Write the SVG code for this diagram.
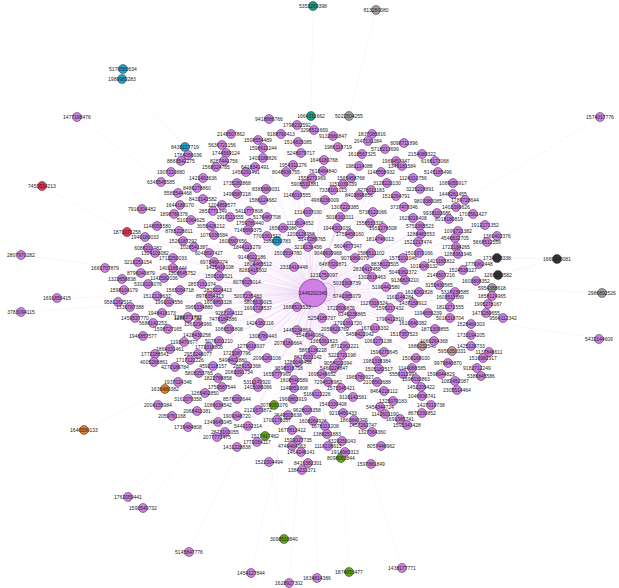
<svg xmlns="http://www.w3.org/2000/svg" width="619" height="588" viewBox="0 0 619 588">
<style>
text{font-family:"Liberation Sans",Arial,sans-serif;font-size:5px;text-anchor:middle;fill:#222}
circle{stroke:#3a2a3e;stroke-width:.5}
.p circle{fill:#d07fe6}.t circle{fill:#17a086}.g circle{fill:#a0a0a0}.c circle{fill:#1ba7d6}.r circle{fill:#e8334f}.d circle{fill:#333}.o circle{fill:#e67e22}.gr circle{fill:#63a80e}.b circle{fill:#c49a9a}
#edges line{stroke:#dfb0ee;stroke-width:.4;stroke-opacity:.35}
#edges .et{stroke:#9edfcc}#edges .eg{stroke:#cccccc}#edges .ec{stroke:#a9dcf0}#edges .er{stroke:#f5b0bd}#edges .ed{stroke:#bbbbbb}#edges .eo{stroke:#f3c79a}#edges .egr{stroke:#d2e8a8}#edges .eb{stroke:#e0cccc}
</style>
<rect width="619" height="588" fill="#fff"/>
<g id="edges">
<line class="et" x1="313" y1="6" x2="311" y2="116"/>
<line class="eg" x1="376" y1="10" x2="349" y2="116"/>
<line class="ec" x1="123" y1="69" x2="185" y2="147"/>
<line class="ec" x1="122" y1="79" x2="185" y2="147"/>
<line class="er" x1="42" y1="186" x2="127" y2="232"/>
<line class="ed" x1="557" y1="259" x2="497" y2="258"/>
<line class="ed" x1="557" y1="259" x2="498" y2="275"/>
<line class="eg" x1="602" y1="293" x2="492" y2="288"/>
<line class="eo" x1="84" y1="430" x2="165" y2="389"/>
<line class="egr" x1="284" y1="539" x2="265" y2="436"/>
<line class="egr" x1="349" y1="572" x2="341" y2="458"/>
<line class="ec" x1="313" y1="293" x2="185" y2="147"/>
<line class="et" x1="313" y1="293" x2="311" y2="116"/>
<line class="eg" x1="313" y1="293" x2="349" y2="116"/>
<line class="er" x1="313" y1="293" x2="127" y2="232"/>
<line class="ed" x1="313" y1="293" x2="497" y2="258"/>
<line class="ed" x1="313" y1="293" x2="498" y2="275"/>
<line class="eg" x1="313" y1="293" x2="492" y2="288"/>
<line class="eo" x1="313" y1="293" x2="165" y2="389"/>
<line class="egr" x1="313" y1="293" x2="265" y2="436"/>
<line class="egr" x1="313" y1="293" x2="274" y2="405"/>
<line class="egr" x1="313" y1="293" x2="341" y2="458"/>
<line class="eb" x1="313" y1="293" x2="422" y2="346"/>
<line class="eb" x1="313" y1="293" x2="452" y2="351"/>
<line class="ec" x1="313" y1="293" x2="277" y2="241"/>
<line x1="313" y1="293" x2="77" y2="117"/><line x1="313" y1="293" x2="600" y2="117"/><line x1="313" y1="293" x2="21" y2="255"/><line x1="313" y1="293" x2="57" y2="298"/><line x1="313" y1="293" x2="21" y2="312"/><line x1="313" y1="293" x2="599" y2="339"/><line x1="313" y1="293" x2="251" y2="573"/><line x1="313" y1="293" x2="289" y2="583"/><line x1="313" y1="293" x2="317" y2="578"/><line x1="313" y1="293" x2="402" y2="568"/><line x1="313" y1="293" x2="189" y2="552"/><line x1="313" y1="293" x2="128" y2="497"/><line x1="313" y1="293" x2="143" y2="508"/><line x1="313" y1="293" x2="269" y2="119"/>
<line x1="313" y1="293" x2="231" y2="134"/><line x1="313" y1="293" x2="222" y2="145"/><line x1="313" y1="293" x2="226" y2="153"/><line x1="313" y1="293" x2="188" y2="155"/><line x1="313" y1="293" x2="181" y2="161"/><line x1="313" y1="293" x2="224" y2="161"/><line x1="313" y1="293" x2="216" y2="167"/><line x1="313" y1="293" x2="171" y2="172"/><line x1="313" y1="293" x2="203" y2="178"/><line x1="313" y1="293" x2="161" y2="182"/><line x1="313" y1="293" x2="237" y2="183"/><line x1="313" y1="293" x2="197" y2="188"/><line x1="313" y1="293" x2="178" y2="193"/><line x1="313" y1="293" x2="237" y2="194"/><line x1="313" y1="293" x2="203" y2="199"/><line x1="313" y1="293" x2="180" y2="205"/><line x1="313" y1="293" x2="222" y2="205"/><line x1="313" y1="293" x2="213" y2="211"/><line x1="313" y1="293" x2="142" y2="209"/><line x1="313" y1="293" x2="174" y2="214"/><line x1="313" y1="293" x2="230" y2="217"/><line x1="313" y1="293" x2="191" y2="220"/><line x1="313" y1="293" x2="157" y2="226"/><line x1="313" y1="293" x2="211" y2="226"/><line x1="313" y1="293" x2="179" y2="231"/><line x1="313" y1="293" x2="214" y2="235"/><line x1="313" y1="293" x2="145" y2="237"/><line x1="313" y1="293" x2="183" y2="241"/><line x1="313" y1="293" x2="233" y2="241"/><line x1="313" y1="293" x2="194" y2="247"/><line x1="313" y1="293" x2="247" y2="247"/><line x1="313" y1="293" x2="148" y2="248"/><line x1="313" y1="293" x2="209" y2="253"/><line x1="313" y1="293" x2="155" y2="253"/><line x1="313" y1="293" x2="173" y2="258"/><line x1="313" y1="293" x2="214" y2="262"/><line x1="313" y1="293" x2="220" y2="267"/><line x1="313" y1="293" x2="173" y2="268"/><line x1="313" y1="293" x2="182" y2="273"/><line x1="313" y1="293" x2="219" y2="276"/><line x1="313" y1="293" x2="164" y2="278"/><line x1="313" y1="293" x2="202" y2="284"/><line x1="313" y1="293" x2="247" y2="282"/><line x1="313" y1="293" x2="148" y2="284"/><line x1="313" y1="293" x2="180" y2="290"/><line x1="313" y1="293" x2="218" y2="290"/><line x1="313" y1="293" x2="138" y2="262"/><line x1="313" y1="293" x2="249" y2="211"/><line x1="313" y1="293" x2="250" y2="223"/><line x1="313" y1="293" x2="248" y2="230"/><line x1="313" y1="293" x2="246" y2="172"/><line x1="313" y1="293" x2="255" y2="167"/><line x1="313" y1="293" x2="258" y2="140"/><line x1="313" y1="293" x2="263" y2="148"/><line x1="313" y1="293" x2="263" y2="158"/><line x1="313" y1="293" x2="266" y2="189"/><line x1="313" y1="293" x2="263" y2="200"/><line x1="313" y1="293" x2="267" y2="217"/><line x1="313" y1="293" x2="267" y2="236"/><line x1="313" y1="293" x2="252" y2="257"/><line x1="313" y1="293" x2="258" y2="264"/><line x1="313" y1="293" x2="253" y2="270"/>
<line x1="313" y1="293" x2="105" y2="268"/><line x1="313" y1="293" x2="141" y2="273"/><line x1="313" y1="293" x2="122" y2="279"/><line x1="313" y1="293" x2="124" y2="290"/><line x1="313" y1="293" x2="118" y2="302"/><line x1="313" y1="293" x2="130" y2="307"/><line x1="313" y1="293" x2="135" y2="318"/><line x1="313" y1="293" x2="153" y2="323"/><line x1="313" y1="293" x2="143" y2="336"/><line x1="313" y1="293" x2="188" y2="318"/><line x1="313" y1="293" x2="168" y2="329"/>
<line x1="313" y1="293" x2="297" y2="125"/><line x1="313" y1="293" x2="314" y2="130"/><line x1="313" y1="293" x2="281" y2="134"/><line x1="313" y1="293" x2="333" y2="136"/><line x1="313" y1="293" x2="372" y2="134"/><line x1="313" y1="293" x2="368" y2="141"/><line x1="313" y1="293" x2="298" y2="142"/><line x1="313" y1="293" x2="338" y2="147"/><line x1="313" y1="293" x2="385" y2="149"/><line x1="313" y1="293" x2="301" y2="153"/><line x1="313" y1="293" x2="362" y2="154"/><line x1="313" y1="293" x2="324" y2="160"/><line x1="313" y1="293" x2="293" y2="165"/><line x1="313" y1="293" x2="359" y2="166"/><line x1="313" y1="293" x2="323" y2="171"/><line x1="313" y1="293" x2="286" y2="172"/><line x1="313" y1="293" x2="381" y2="172"/><line x1="313" y1="293" x2="312" y2="178"/><line x1="313" y1="293" x2="351" y2="178"/><line x1="313" y1="293" x2="305" y2="184"/><line x1="313" y1="293" x2="343" y2="184"/><line x1="313" y1="293" x2="387" y2="183"/><line x1="313" y1="293" x2="333" y2="190"/><line x1="313" y1="293" x2="371" y2="190"/><line x1="313" y1="293" x2="297" y2="195"/><line x1="313" y1="293" x2="359" y2="195"/><line x1="313" y1="293" x2="325" y2="200"/><line x1="313" y1="293" x2="345" y2="207"/><line x1="313" y1="293" x2="308" y2="212"/><line x1="313" y1="293" x2="373" y2="212"/><line x1="313" y1="293" x2="340" y2="217"/><line x1="313" y1="293" x2="300" y2="223"/><line x1="313" y1="293" x2="370" y2="223"/><line x1="313" y1="293" x2="337" y2="228"/><line x1="313" y1="293" x2="383" y2="228"/><line x1="313" y1="293" x2="283" y2="228"/><line x1="313" y1="293" x2="301" y2="234"/><line x1="313" y1="293" x2="350" y2="234"/><line x1="313" y1="293" x2="312" y2="239"/><line x1="313" y1="293" x2="380" y2="239"/><line x1="313" y1="293" x2="308" y2="247"/><line x1="313" y1="293" x2="348" y2="246"/><line x1="313" y1="293" x2="328" y2="253"/><line x1="313" y1="293" x2="371" y2="253"/><line x1="313" y1="293" x2="288" y2="253"/><line x1="313" y1="293" x2="355" y2="258"/><line x1="313" y1="293" x2="333" y2="264"/><line x1="313" y1="293" x2="385" y2="264"/><line x1="313" y1="293" x2="294" y2="267"/><line x1="313" y1="293" x2="367" y2="269"/><line x1="313" y1="293" x2="324" y2="275"/><line x1="313" y1="293" x2="372" y2="277"/><line x1="313" y1="293" x2="347" y2="283"/><line x1="313" y1="293" x2="386" y2="287"/>
<line x1="313" y1="293" x2="404" y2="143"/><line x1="313" y1="293" x2="422" y2="154"/><line x1="313" y1="293" x2="396" y2="161"/><line x1="313" y1="293" x2="435" y2="161"/><line x1="313" y1="293" x2="402" y2="166"/><line x1="313" y1="293" x2="438" y2="172"/><line x1="313" y1="293" x2="413" y2="178"/><line x1="313" y1="293" x2="453" y2="183"/><line x1="313" y1="293" x2="420" y2="189"/><line x1="313" y1="293" x2="453" y2="194"/><line x1="313" y1="293" x2="465" y2="200"/><line x1="313" y1="293" x2="396" y2="196"/><line x1="313" y1="293" x2="428" y2="201"/><line x1="313" y1="293" x2="404" y2="207"/><line x1="313" y1="293" x2="456" y2="207"/><line x1="313" y1="293" x2="437" y2="213"/><line x1="313" y1="293" x2="473" y2="214"/><line x1="313" y1="293" x2="413" y2="218"/><line x1="313" y1="293" x2="449" y2="219"/><line x1="313" y1="293" x2="485" y2="225"/><line x1="313" y1="293" x2="420" y2="226"/><line x1="313" y1="293" x2="458" y2="231"/><line x1="313" y1="293" x2="421" y2="234"/><line x1="313" y1="293" x2="497" y2="236"/><line x1="313" y1="293" x2="455" y2="238"/><line x1="313" y1="293" x2="418" y2="242"/><line x1="313" y1="293" x2="487" y2="242"/><line x1="313" y1="293" x2="456" y2="247"/><line x1="313" y1="293" x2="419" y2="253"/><line x1="313" y1="293" x2="458" y2="254"/><line x1="313" y1="293" x2="403" y2="258"/><line x1="313" y1="293" x2="441" y2="261"/><line x1="313" y1="293" x2="424" y2="266"/><line x1="313" y1="293" x2="479" y2="264"/><line x1="313" y1="293" x2="403" y2="272"/><line x1="313" y1="293" x2="463" y2="270"/><line x1="313" y1="293" x2="441" y2="275"/><line x1="313" y1="293" x2="405" y2="280"/><line x1="313" y1="293" x2="476" y2="281"/><line x1="313" y1="293" x2="439" y2="285"/><line x1="313" y1="293" x2="419" y2="292"/><line x1="313" y1="293" x2="455" y2="292"/>
<line x1="313" y1="293" x2="450" y2="297"/><line x1="313" y1="293" x2="492" y2="296"/><line x1="313" y1="293" x2="488" y2="304"/><line x1="313" y1="293" x2="450" y2="307"/><line x1="313" y1="293" x2="486" y2="313"/><line x1="313" y1="293" x2="503" y2="318"/><line x1="313" y1="293" x2="450" y2="318"/><line x1="313" y1="293" x2="471" y2="324"/><line x1="313" y1="293" x2="435" y2="329"/><line x1="313" y1="293" x2="471" y2="335"/><line x1="313" y1="293" x2="434" y2="341"/><line x1="313" y1="293" x2="471" y2="346"/><line x1="313" y1="293" x2="489" y2="352"/><line x1="313" y1="293" x2="483" y2="358"/><line x1="313" y1="293" x2="448" y2="363"/><line x1="313" y1="293" x2="416" y2="358"/><line x1="313" y1="293" x2="412" y2="368"/><line x1="313" y1="293" x2="477" y2="368"/><line x1="313" y1="293" x2="441" y2="374"/><line x1="313" y1="293" x2="481" y2="376"/><line x1="313" y1="293" x2="403" y2="374"/><line x1="313" y1="293" x2="416" y2="379"/><line x1="313" y1="293" x2="455" y2="381"/><line x1="313" y1="293" x2="421" y2="387"/><line x1="313" y1="293" x2="457" y2="390"/><line x1="313" y1="293" x2="422" y2="396"/><line x1="313" y1="293" x2="431" y2="405"/><line x1="313" y1="293" x2="422" y2="413"/><line x1="313" y1="293" x2="400" y2="419"/><line x1="313" y1="293" x2="407" y2="425"/><line x1="313" y1="293" x2="400" y2="297"/><line x1="313" y1="293" x2="413" y2="303"/><line x1="313" y1="293" x2="428" y2="313"/><line x1="313" y1="293" x2="413" y2="323"/><line x1="313" y1="293" x2="404" y2="334"/><line x1="313" y1="293" x2="390" y2="308"/><line x1="313" y1="293" x2="390" y2="319"/><line x1="313" y1="293" x2="393" y2="401"/>
<line x1="313" y1="293" x2="157" y2="296"/><line x1="313" y1="293" x2="210" y2="296"/><line x1="313" y1="293" x2="248" y2="296"/><line x1="313" y1="293" x2="169" y2="302"/><line x1="313" y1="293" x2="218" y2="302"/><line x1="313" y1="293" x2="258" y2="302"/><line x1="313" y1="293" x2="162" y2="313"/><line x1="313" y1="293" x2="258" y2="308"/><line x1="313" y1="293" x2="188" y2="317"/><line x1="313" y1="293" x2="199" y2="307"/><line x1="313" y1="293" x2="229" y2="313"/><line x1="313" y1="293" x2="223" y2="319"/><line x1="313" y1="293" x2="198" y2="324"/><line x1="313" y1="293" x2="260" y2="323"/><line x1="313" y1="293" x2="229" y2="329"/><line x1="313" y1="293" x2="197" y2="335"/><line x1="313" y1="293" x2="263" y2="336"/><line x1="313" y1="293" x2="184" y2="342"/><line x1="313" y1="293" x2="219" y2="341"/><line x1="313" y1="293" x2="251" y2="346"/><line x1="313" y1="293" x2="170" y2="349"/><line x1="313" y1="293" x2="209" y2="347"/><line x1="313" y1="293" x2="155" y2="354"/><line x1="313" y1="293" x2="198" y2="354"/><line x1="313" y1="293" x2="237" y2="353"/><line x1="313" y1="293" x2="154" y2="362"/><line x1="313" y1="293" x2="190" y2="360"/><line x1="313" y1="293" x2="233" y2="360"/><line x1="313" y1="293" x2="267" y2="358"/><line x1="313" y1="293" x2="175" y2="367"/><line x1="313" y1="293" x2="213" y2="366"/><line x1="313" y1="293" x2="247" y2="366"/><line x1="313" y1="293" x2="199" y2="373"/><line x1="313" y1="293" x2="239" y2="372"/><line x1="313" y1="293" x2="218" y2="378"/><line x1="313" y1="293" x2="178" y2="382"/><line x1="313" y1="293" x2="257" y2="382"/><line x1="313" y1="293" x2="222" y2="387"/><line x1="313" y1="293" x2="258" y2="387"/><line x1="313" y1="293" x2="205" y2="393"/><line x1="313" y1="293" x2="237" y2="399"/><line x1="313" y1="293" x2="188" y2="399"/><line x1="313" y1="293" x2="158" y2="405"/><line x1="313" y1="293" x2="218" y2="405"/><line x1="313" y1="293" x2="258" y2="410"/><line x1="313" y1="293" x2="197" y2="411"/><line x1="313" y1="293" x2="172" y2="416"/><line x1="313" y1="293" x2="237" y2="416"/><line x1="313" y1="293" x2="218" y2="422"/><line x1="313" y1="293" x2="188" y2="427"/><line x1="313" y1="293" x2="248" y2="426"/><line x1="313" y1="293" x2="225" y2="432"/><line x1="313" y1="293" x2="217" y2="437"/><line x1="313" y1="293" x2="257" y2="442"/><line x1="313" y1="293" x2="237" y2="447"/><line x1="313" y1="293" x2="269" y2="462"/>
<line x1="313" y1="293" x2="347" y2="296"/><line x1="313" y1="293" x2="374" y2="303"/><line x1="313" y1="293" x2="297" y2="307"/><line x1="313" y1="293" x2="341" y2="308"/><line x1="313" y1="293" x2="352" y2="314"/><line x1="313" y1="293" x2="322" y2="318"/><line x1="313" y1="293" x2="348" y2="323"/><line x1="313" y1="293" x2="375" y2="328"/><line x1="313" y1="293" x2="297" y2="330"/><line x1="313" y1="293" x2="335" y2="329"/><line x1="313" y1="293" x2="310" y2="335"/><line x1="313" y1="293" x2="360" y2="334"/><line x1="313" y1="293" x2="378" y2="341"/><line x1="313" y1="293" x2="324" y2="341"/><line x1="313" y1="293" x2="288" y2="343"/><line x1="313" y1="293" x2="345" y2="346"/><line x1="313" y1="293" x2="313" y2="350"/><line x1="313" y1="293" x2="384" y2="352"/><line x1="313" y1="293" x2="308" y2="357"/><line x1="313" y1="293" x2="342" y2="355"/><line x1="313" y1="293" x2="298" y2="362"/><line x1="313" y1="293" x2="338" y2="363"/><line x1="313" y1="293" x2="377" y2="361"/><line x1="313" y1="293" x2="289" y2="368"/><line x1="313" y1="293" x2="334" y2="368"/><line x1="313" y1="293" x2="379" y2="369"/><line x1="313" y1="293" x2="277" y2="374"/><line x1="313" y1="293" x2="322" y2="374"/><line x1="313" y1="293" x2="360" y2="377"/><line x1="313" y1="293" x2="294" y2="380"/><line x1="313" y1="293" x2="328" y2="382"/><line x1="313" y1="293" x2="377" y2="382"/><line x1="313" y1="293" x2="294" y2="388"/><line x1="313" y1="293" x2="341" y2="388"/><line x1="313" y1="293" x2="384" y2="391"/><line x1="313" y1="293" x2="317" y2="394"/><line x1="313" y1="293" x2="353" y2="397"/><line x1="313" y1="293" x2="293" y2="399"/><line x1="313" y1="293" x2="333" y2="404"/><line x1="313" y1="293" x2="380" y2="407"/><line x1="313" y1="293" x2="307" y2="410"/><line x1="313" y1="293" x2="385" y2="414"/><line x1="313" y1="293" x2="343" y2="413"/><line x1="313" y1="293" x2="288" y2="415"/><line x1="313" y1="293" x2="313" y2="421"/><line x1="313" y1="293" x2="354" y2="420"/><line x1="313" y1="293" x2="277" y2="420"/><line x1="313" y1="293" x2="325" y2="426"/><line x1="313" y1="293" x2="363" y2="425"/><line x1="313" y1="293" x2="292" y2="430"/><line x1="313" y1="293" x2="372" y2="432"/><line x1="313" y1="293" x2="327" y2="434"/><line x1="313" y1="293" x2="298" y2="440"/><line x1="313" y1="293" x2="342" y2="441"/><line x1="313" y1="293" x2="292" y2="446"/><line x1="313" y1="293" x2="328" y2="446"/><line x1="313" y1="293" x2="345" y2="452"/><line x1="313" y1="293" x2="381" y2="446"/><line x1="313" y1="293" x2="301" y2="452"/><line x1="313" y1="293" x2="308" y2="463"/><line x1="313" y1="293" x2="371" y2="464"/><line x1="313" y1="293" x2="302" y2="470"/>
<circle cx="326" cy="292" r="9" fill="none" style="stroke:#d9a0e8;stroke-width:.6"/>
</g>
<g id="n0" class="p" transform="translate(313,293)"><circle r="14"/><text y="1.7">1446202346</text></g>
<g id="n1" class="t" transform="translate(313,6)"><circle r="4.5"/><text y="1.7">5353269398</text></g>
<g id="n2" class="g" transform="translate(376,10)"><circle r="4.5"/><text y="1.7">813280080</text></g>
<g id="n3" class="c" transform="translate(123,69)"><circle r="4.5"/><text y="1.7">5176580634</text></g>
<g id="n4" class="c" transform="translate(122,79)"><circle r="4.5"/><text y="1.7">1986980283</text></g>
<g id="n5" class="p" transform="translate(77,117)"><circle r="4.5"/><text y="1.7">1477168476</text></g>
<g id="n6" class="p" transform="translate(600,117)"><circle r="4.5"/><text y="1.7">1574017776</text></g>
<g id="n7" class="r" transform="translate(42,186)"><circle r="4.5"/><text y="1.7">7453524213</text></g>
<g id="n8" class="r" transform="translate(127,232)"><circle r="4.5"/><text y="1.7">1871071258</text></g>
<g id="n9" class="p" transform="translate(21,255)"><circle r="4.5"/><text y="1.7">2807970282</text></g>
<g id="n10" class="p" transform="translate(57,298)"><circle r="4.5"/><text y="1.7">1691850415</text></g>
<g id="n11" class="p" transform="translate(21,312)"><circle r="4.5"/><text y="1.7">3783094115</text></g>
<g id="n12" class="d" transform="translate(557,259)"><circle r="4.5"/><text y="1.7">1669840081</text></g>
<g id="n13" class="d" transform="translate(497,258)"><circle r="4.5"/><text y="1.7">1734278338</text></g>
<g id="n14" class="d" transform="translate(498,275)"><circle r="4.5"/><text y="1.7">1269520582</text></g>
<g id="n15" class="g" transform="translate(492,288)"><circle r="4.5"/><text y="1.7">5954388618</text></g>
<g id="n16" class="g" transform="translate(602,293)"><circle r="4.5"/><text y="1.7">2986892526</text></g>
<g id="n17" class="p" transform="translate(599,339)"><circle r="4.5"/><text y="1.7">5432144609</text></g>
<g id="n18" class="o" transform="translate(84,430)"><circle r="4.5"/><text y="1.7">1646599133</text></g>
<g id="n19" class="o" transform="translate(165,389)"><circle r="4.5"/><text y="1.7">1636480382</text></g>
<g id="n20" class="gr" transform="translate(284,539)"><circle r="4.5"/><text y="1.7">3098518840</text></g>
<g id="n21" class="gr" transform="translate(349,572)"><circle r="4.5"/><text y="1.7">1874053477</text></g>
<g id="n22" class="p" transform="translate(251,573)"><circle r="4.5"/><text y="1.7">1454127844</text></g>
<g id="n23" class="p" transform="translate(289,583)"><circle r="4.5"/><text y="1.7">1628927302</text></g>
<g id="n24" class="p" transform="translate(317,578)"><circle r="4.5"/><text y="1.7">1634814386</text></g>
<g id="n25" class="p" transform="translate(402,568)"><circle r="4.5"/><text y="1.7">1438177771</text></g>
<g id="n26" class="p" transform="translate(189,552)"><circle r="4.5"/><text y="1.7">5145847776</text></g>
<g id="n27" class="p" transform="translate(128,497)"><circle r="4.5"/><text y="1.7">1762059441</text></g>
<g id="n28" class="p" transform="translate(143,508)"><circle r="4.5"/><text y="1.7">1590540732</text></g>
<g id="n29" class="c" transform="translate(185,147)"><circle r="4.5"/><text y="1.7">8438227719</text></g>
<g id="n30" class="t" transform="translate(311,116)"><circle r="4.5"/><text y="1.7">1664311662</text></g>
<g id="n31" class="g" transform="translate(349,116)"><circle r="4.5"/><text y="1.7">5022504255</text></g>
<g id="n32" class="c" transform="translate(277,241)"><circle r="4.5"/><text y="1.7">1588230783</text></g>
<g id="n33" class="gr" transform="translate(265,436)"><circle r="4.5"/><text y="1.7">1517417462</text></g>
<g id="n34" class="gr" transform="translate(274,405)"><circle r="4.5"/><text y="1.7">3078051076</text></g>
<g id="n35" class="gr" transform="translate(341,458)"><circle r="4.5"/><text y="1.7">8098063844</text></g>
<g id="n36" class="b" transform="translate(422,346)"><circle r="4.5"/><text y="1.7">1686232546</text></g>
<g id="n37" class="b" transform="translate(452,351)"><circle r="4.5"/><text y="1.7">5956350331</text></g>
<g id="n38" class="p" transform="translate(269,119)"><circle r="4.5"/><text y="1.7">9418886766</text></g>
<g id="n39" class="p" transform="translate(231,134)"><circle r="4.5"/><text y="1.7">2148507862</text></g>
<g id="n40" class="p" transform="translate(222,145)"><circle r="4.5"/><text y="1.7">5636721156</text></g>
<g id="n41" class="p" transform="translate(226,153)"><circle r="4.5"/><text y="1.7">1744569124</text></g>
<g id="n42" class="p" transform="translate(188,155)"><circle r="4.5"/><text y="1.7">1764056036</text></g>
<g id="n43" class="p" transform="translate(181,161)"><circle r="4.5"/><text y="1.7">8883542275</text></g>
<g id="n44" class="p" transform="translate(224,161)"><circle r="4.5"/><text y="1.7">8287441756</text></g>
<g id="n45" class="p" transform="translate(216,167)"><circle r="4.5"/><text y="1.7">1568024785</text></g>
<g id="n46" class="p" transform="translate(171,172)"><circle r="4.5"/><text y="1.7">1907220880</text></g>
<g id="n47" class="p" transform="translate(203,178)"><circle r="4.5"/><text y="1.7">1421463636</text></g>
<g id="n48" class="p" transform="translate(161,182)"><circle r="4.5"/><text y="1.7">6345545585</text></g>
<g id="n49" class="p" transform="translate(237,183)"><circle r="4.5"/><text y="1.7">1735282868</text></g>
<g id="n50" class="p" transform="translate(197,188)"><circle r="4.5"/><text y="1.7">8486278860</text></g>
<g id="n51" class="p" transform="translate(178,193)"><circle r="4.5"/><text y="1.7">5585544468</text></g>
<g id="n52" class="p" transform="translate(237,194)"><circle r="4.5"/><text y="1.7">1499587218</text></g>
<g id="n53" class="p" transform="translate(203,199)"><circle r="4.5"/><text y="1.7">8432142582</text></g>
<g id="n54" class="p" transform="translate(180,205)"><circle r="4.5"/><text y="1.7">1644188170</text></g>
<g id="n55" class="p" transform="translate(222,205)"><circle r="4.5"/><text y="1.7">1204859577</text></g>
<g id="n56" class="p" transform="translate(213,211)"><circle r="4.5"/><text y="1.7">2853771349</text></g>
<g id="n57" class="p" transform="translate(142,209)"><circle r="4.5"/><text y="1.7">7916304482</text></g>
<g id="n58" class="p" transform="translate(174,214)"><circle r="4.5"/><text y="1.7">1898766378</text></g>
<g id="n59" class="p" transform="translate(230,217)"><circle r="4.5"/><text y="1.7">1917111555</text></g>
<g id="n60" class="p" transform="translate(191,220)"><circle r="4.5"/><text y="1.7">5102364625</text></g>
<g id="n61" class="p" transform="translate(157,226)"><circle r="4.5"/><text y="1.7">1148955580</text></g>
<g id="n62" class="p" transform="translate(211,226)"><circle r="4.5"/><text y="1.7">3056426212</text></g>
<g id="n63" class="p" transform="translate(179,231)"><circle r="4.5"/><text y="1.7">8785226611</text></g>
<g id="n64" class="p" transform="translate(214,235)"><circle r="4.5"/><text y="1.7">1076336584</text></g>
<g id="n65" class="p" transform="translate(145,237)"><circle r="4.5"/><text y="1.7">1940180033</text></g>
<g id="n66" class="p" transform="translate(183,241)"><circle r="4.5"/><text y="1.7">1526187292</text></g>
<g id="n67" class="p" transform="translate(233,241)"><circle r="4.5"/><text y="1.7">1603567656</text></g>
<g id="n68" class="p" transform="translate(194,247)"><circle r="4.5"/><text y="1.7">1028541387</text></g>
<g id="n69" class="p" transform="translate(247,247)"><circle r="4.5"/><text y="1.7">1844113279</text></g>
<g id="n70" class="p" transform="translate(148,248)"><circle r="4.5"/><text y="1.7">6088211082</text></g>
<g id="n71" class="p" transform="translate(209,253)"><circle r="4.5"/><text y="1.7">6043697427</text></g>
<g id="n72" class="p" transform="translate(155,253)"><circle r="4.5"/><text y="1.7">1324103082</text></g>
<g id="n73" class="p" transform="translate(173,258)"><circle r="4.5"/><text y="1.7">1713250033</text></g>
<g id="n74" class="p" transform="translate(214,262)"><circle r="4.5"/><text y="1.7">6973460274</text></g>
<g id="n75" class="p" transform="translate(220,267)"><circle r="4.5"/><text y="1.7">1425418108</text></g>
<g id="n76" class="p" transform="translate(173,268)"><circle r="4.5"/><text y="1.7">1401186444</text></g>
<g id="n77" class="p" transform="translate(182,273)"><circle r="4.5"/><text y="1.7">1308545752</text></g>
<g id="n78" class="p" transform="translate(219,276)"><circle r="4.5"/><text y="1.7">1595160521</text></g>
<g id="n79" class="p" transform="translate(164,278)"><circle r="4.5"/><text y="1.7">1142582036</text></g>
<g id="n80" class="p" transform="translate(202,284)"><circle r="4.5"/><text y="1.7">2857151074</text></g>
<g id="n81" class="p" transform="translate(247,282)"><circle r="4.5"/><text y="1.7">8078025014</text></g>
<g id="n82" class="p" transform="translate(148,284)"><circle r="4.5"/><text y="1.7">5302026076</text></g>
<g id="n83" class="p" transform="translate(180,290)"><circle r="4.5"/><text y="1.7">1565054718</text></g>
<g id="n84" class="p" transform="translate(218,290)"><circle r="4.5"/><text y="1.7">2820224413</text></g>
<g id="n85" class="p" transform="translate(138,262)"><circle r="4.5"/><text y="1.7">3218253154</text></g>
<g id="n86" class="p" transform="translate(249,211)"><circle r="4.5"/><text y="1.7">5411777808</text></g>
<g id="n87" class="p" transform="translate(250,223)"><circle r="4.5"/><text y="1.7">1759780440</text></g>
<g id="n88" class="p" transform="translate(248,230)"><circle r="4.5"/><text y="1.7">7145669375</text></g>
<g id="n89" class="p" transform="translate(246,172)"><circle r="4.5"/><text y="1.7">1456291491</text></g>
<g id="n90" class="p" transform="translate(255,167)"><circle r="4.5"/><text y="1.7">6418341491</text></g>
<g id="n91" class="p" transform="translate(258,140)"><circle r="4.5"/><text y="1.7">1598554489</text></g>
<g id="n92" class="p" transform="translate(263,148)"><circle r="4.5"/><text y="1.7">1598611244</text></g>
<g id="n93" class="p" transform="translate(263,158)"><circle r="4.5"/><text y="1.7">1403188826</text></g>
<g id="n94" class="p" transform="translate(266,189)"><circle r="4.5"/><text y="1.7">8385880031</text></g>
<g id="n95" class="p" transform="translate(263,200)"><circle r="4.5"/><text y="1.7">1586124682</text></g>
<g id="n96" class="p" transform="translate(267,217)"><circle r="4.5"/><text y="1.7">5176487708</text></g>
<g id="n97" class="p" transform="translate(267,236)"><circle r="4.5"/><text y="1.7">7700361512</text></g>
<g id="n98" class="p" transform="translate(252,257)"><circle r="4.5"/><text y="1.7">9148022186</text></g>
<g id="n99" class="p" transform="translate(258,264)"><circle r="4.5"/><text y="1.7">1804465512</text></g>
<g id="n100" class="p" transform="translate(253,270)"><circle r="4.5"/><text y="1.7">8281416802</text></g>
<g id="n101" class="p" transform="translate(105,268)"><circle r="4.5"/><text y="1.7">1681707879</text></g>
<g id="n102" class="p" transform="translate(141,273)"><circle r="4.5"/><text y="1.7">8796040879</text></g>
<g id="n103" class="p" transform="translate(122,279)"><circle r="4.5"/><text y="1.7">1323658838</text></g>
<g id="n104" class="p" transform="translate(124,290)"><circle r="4.5"/><text y="1.7">1598104179</text></g>
<g id="n105" class="p" transform="translate(118,302)"><circle r="4.5"/><text y="1.7">9581262517</text></g>
<g id="n106" class="p" transform="translate(130,307)"><circle r="4.5"/><text y="1.7">1336787388</text></g>
<g id="n107" class="p" transform="translate(135,318)"><circle r="4.5"/><text y="1.7">1459537770</text></g>
<g id="n108" class="p" transform="translate(153,323)"><circle r="4.5"/><text y="1.7">5686142253</text></g>
<g id="n109" class="p" transform="translate(143,336)"><circle r="4.5"/><text y="1.7">1946857577</text></g>
<g id="n110" class="p" transform="translate(188,318)"><circle r="4.5"/><text y="1.7">1289718792</text></g>
<g id="n111" class="p" transform="translate(168,329)"><circle r="4.5"/><text y="1.7">1598727165</text></g>
<g id="n112" class="p" transform="translate(297,125)"><circle r="4.5"/><text y="1.7">1798232592</text></g>
<g id="n113" class="p" transform="translate(314,130)"><circle r="4.5"/><text y="1.7">3298511669</text></g>
<g id="n114" class="p" transform="translate(281,134)"><circle r="4.5"/><text y="1.7">9188760413</text></g>
<g id="n115" class="p" transform="translate(333,136)"><circle r="4.5"/><text y="1.7">9132680847</text></g>
<g id="n116" class="p" transform="translate(372,134)"><circle r="4.5"/><text y="1.7">1837085816</text></g>
<g id="n117" class="p" transform="translate(368,141)"><circle r="4.5"/><text y="1.7">2047131084</text></g>
<g id="n118" class="p" transform="translate(298,142)"><circle r="4.5"/><text y="1.7">1514825085</text></g>
<g id="n119" class="p" transform="translate(338,147)"><circle r="4.5"/><text y="1.7">1986118719</text></g>
<g id="n120" class="p" transform="translate(385,149)"><circle r="4.5"/><text y="1.7">5718213699</text></g>
<g id="n121" class="p" transform="translate(301,153)"><circle r="4.5"/><text y="1.7">5248079717</text></g>
<g id="n122" class="p" transform="translate(362,154)"><circle r="4.5"/><text y="1.7">1618567325</text></g>
<g id="n123" class="p" transform="translate(324,160)"><circle r="4.5"/><text y="1.7">1646180768</text></g>
<g id="n124" class="p" transform="translate(293,165)"><circle r="4.5"/><text y="1.7">1954311276</text></g>
<g id="n125" class="p" transform="translate(359,166)"><circle r="4.5"/><text y="1.7">1981114088</text></g>
<g id="n126" class="p" transform="translate(323,171)"><circle r="4.5"/><text y="1.7">7618494840</text></g>
<g id="n127" class="p" transform="translate(286,172)"><circle r="4.5"/><text y="1.7">8048936755</text></g>
<g id="n128" class="p" transform="translate(381,172)"><circle r="4.5"/><text y="1.7">1148558932</text></g>
<g id="n129" class="p" transform="translate(312,178)"><circle r="4.5"/><text y="1.7">1558271969</text></g>
<g id="n130" class="p" transform="translate(351,178)"><circle r="4.5"/><text y="1.7">1565458768</text></g>
<g id="n131" class="p" transform="translate(305,184)"><circle r="4.5"/><text y="1.7">5905531881</text></g>
<g id="n132" class="p" transform="translate(343,184)"><circle r="4.5"/><text y="1.7">1151039039</text></g>
<g id="n133" class="p" transform="translate(387,183)"><circle r="4.5"/><text y="1.7">3128220130</text></g>
<g id="n134" class="p" transform="translate(333,190)"><circle r="4.5"/><text y="1.7">7338101013</text></g>
<g id="n135" class="p" transform="translate(371,190)"><circle r="4.5"/><text y="1.7">5276011183</text></g>
<g id="n136" class="p" transform="translate(297,195)"><circle r="4.5"/><text y="1.7">1148019555</text></g>
<g id="n137" class="p" transform="translate(359,195)"><circle r="4.5"/><text y="1.7">8403896856</text></g>
<g id="n138" class="p" transform="translate(325,200)"><circle r="4.5"/><text y="1.7">4969236009</text></g>
<g id="n139" class="p" transform="translate(345,207)"><circle r="4.5"/><text y="1.7">1307223385</text></g>
<g id="n140" class="p" transform="translate(308,212)"><circle r="4.5"/><text y="1.7">1314037030</text></g>
<g id="n141" class="p" transform="translate(373,212)"><circle r="4.5"/><text y="1.7">5738123066</text></g>
<g id="n142" class="p" transform="translate(340,217)"><circle r="4.5"/><text y="1.7">5018163311</text></g>
<g id="n143" class="p" transform="translate(300,223)"><circle r="4.5"/><text y="1.7">1112624652</text></g>
<g id="n144" class="p" transform="translate(370,223)"><circle r="4.5"/><text y="1.7">1558533326</text></g>
<g id="n145" class="p" transform="translate(337,228)"><circle r="4.5"/><text y="1.7">1944303039</text></g>
<g id="n146" class="p" transform="translate(383,228)"><circle r="4.5"/><text y="1.7">1951276508</text></g>
<g id="n147" class="p" transform="translate(283,228)"><circle r="4.5"/><text y="1.7">1656393086</text></g>
<g id="n148" class="p" transform="translate(301,234)"><circle r="4.5"/><text y="1.7">1200126958</text></g>
<g id="n149" class="p" transform="translate(350,234)"><circle r="4.5"/><text y="1.7">1759458160</text></g>
<g id="n150" class="p" transform="translate(312,239)"><circle r="4.5"/><text y="1.7">5147286765</text></g>
<g id="n151" class="p" transform="translate(380,239)"><circle r="4.5"/><text y="1.7">1814749013</text></g>
<g id="n152" class="p" transform="translate(308,247)"><circle r="4.5"/><text y="1.7">3218136456</text></g>
<g id="n153" class="p" transform="translate(348,246)"><circle r="4.5"/><text y="1.7">5604877347</text></g>
<g id="n154" class="p" transform="translate(328,253)"><circle r="4.5"/><text y="1.7">9048639968</text></g>
<g id="n155" class="p" transform="translate(371,253)"><circle r="4.5"/><text y="1.7">1588511102</text></g>
<g id="n156" class="p" transform="translate(288,253)"><circle r="4.5"/><text y="1.7">1503534780</text></g>
<g id="n157" class="p" transform="translate(355,258)"><circle r="4.5"/><text y="1.7">9071860079</text></g>
<g id="n158" class="p" transform="translate(333,264)"><circle r="4.5"/><text y="1.7">6487320871</text></g>
<g id="n159" class="p" transform="translate(385,264)"><circle r="4.5"/><text y="1.7">8838022505</text></g>
<g id="n160" class="p" transform="translate(294,267)"><circle r="4.5"/><text y="1.7">2332418448</text></g>
<g id="n161" class="p" transform="translate(367,269)"><circle r="4.5"/><text y="1.7">2836417458</text></g>
<g id="n162" class="p" transform="translate(324,275)"><circle r="4.5"/><text y="1.7">1231750097</text></g>
<g id="n163" class="p" transform="translate(372,277)"><circle r="4.5"/><text y="1.7">1302618463</text></g>
<g id="n164" class="p" transform="translate(347,283)"><circle r="4.5"/><text y="1.7">5033308739</text></g>
<g id="n165" class="p" transform="translate(386,287)"><circle r="4.5"/><text y="1.7">5190442580</text></g>
<g id="n166" class="p" transform="translate(404,143)"><circle r="4.5"/><text y="1.7">8098711896</text></g>
<g id="n167" class="p" transform="translate(422,154)"><circle r="4.5"/><text y="1.7">2154089322</text></g>
<g id="n168" class="p" transform="translate(396,161)"><circle r="4.5"/><text y="1.7">1969453347</text></g>
<g id="n169" class="p" transform="translate(435,161)"><circle r="4.5"/><text y="1.7">6166173068</text></g>
<g id="n170" class="p" transform="translate(402,166)"><circle r="4.5"/><text y="1.7">1349181584</text></g>
<g id="n171" class="p" transform="translate(438,172)"><circle r="4.5"/><text y="1.7">5145185496</text></g>
<g id="n172" class="p" transform="translate(413,178)"><circle r="4.5"/><text y="1.7">1124310756</text></g>
<g id="n173" class="p" transform="translate(453,183)"><circle r="4.5"/><text y="1.7">1089050917</text></g>
<g id="n174" class="p" transform="translate(420,189)"><circle r="4.5"/><text y="1.7">3225228891</text></g>
<g id="n175" class="p" transform="translate(453,194)"><circle r="4.5"/><text y="1.7">1448261455</text></g>
<g id="n176" class="p" transform="translate(465,200)"><circle r="4.5"/><text y="1.7">1789728644</text></g>
<g id="n177" class="p" transform="translate(396,196)"><circle r="4.5"/><text y="1.7">1519264791</text></g>
<g id="n178" class="p" transform="translate(428,201)"><circle r="4.5"/><text y="1.7">9803380085</text></g>
<g id="n179" class="p" transform="translate(404,207)"><circle r="4.5"/><text y="1.7">3737478346</text></g>
<g id="n180" class="p" transform="translate(456,207)"><circle r="4.5"/><text y="1.7">1403399626</text></g>
<g id="n181" class="p" transform="translate(437,213)"><circle r="4.5"/><text y="1.7">9938103686</text></g>
<g id="n182" class="p" transform="translate(473,214)"><circle r="4.5"/><text y="1.7">1703561427</text></g>
<g id="n183" class="p" transform="translate(413,218)"><circle r="4.5"/><text y="1.7">1623016408</text></g>
<g id="n184" class="p" transform="translate(449,219)"><circle r="4.5"/><text y="1.7">8018180819</text></g>
<g id="n185" class="p" transform="translate(485,225)"><circle r="4.5"/><text y="1.7">1912171352</text></g>
<g id="n186" class="p" transform="translate(420,226)"><circle r="4.5"/><text y="1.7">5753365523</text></g>
<g id="n187" class="p" transform="translate(458,231)"><circle r="4.5"/><text y="1.7">1099721382</text></g>
<g id="n188" class="p" transform="translate(421,234)"><circle r="4.5"/><text y="1.7">1288483553</text></g>
<g id="n189" class="p" transform="translate(497,236)"><circle r="4.5"/><text y="1.7">1360402376</text></g>
<g id="n190" class="p" transform="translate(455,238)"><circle r="4.5"/><text y="1.7">4546832705</text></g>
<g id="n191" class="p" transform="translate(418,242)"><circle r="4.5"/><text y="1.7">1521217474</text></g>
<g id="n192" class="p" transform="translate(487,242)"><circle r="4.5"/><text y="1.7">5668512559</text></g>
<g id="n193" class="p" transform="translate(456,247)"><circle r="4.5"/><text y="1.7">1722184265</text></g>
<g id="n194" class="p" transform="translate(419,253)"><circle r="4.5"/><text y="1.7">1503370166</text></g>
<g id="n195" class="p" transform="translate(458,254)"><circle r="4.5"/><text y="1.7">1288361946</text></g>
<g id="n196" class="p" transform="translate(403,258)"><circle r="4.5"/><text y="1.7">1575101046</text></g>
<g id="n197" class="p" transform="translate(441,261)"><circle r="4.5"/><text y="1.7">1421165812</text></g>
<g id="n198" class="p" transform="translate(424,266)"><circle r="4.5"/><text y="1.7">1019040132</text></g>
<g id="n199" class="p" transform="translate(479,264)"><circle r="4.5"/><text y="1.7">1779062448</text></g>
<g id="n200" class="p" transform="translate(403,272)"><circle r="4.5"/><text y="1.7">5049362372</text></g>
<g id="n201" class="p" transform="translate(463,270)"><circle r="4.5"/><text y="1.7">1524538127</text></g>
<g id="n202" class="p" transform="translate(441,275)"><circle r="4.5"/><text y="1.7">2149507216</text></g>
<g id="n203" class="p" transform="translate(405,280)"><circle r="4.5"/><text y="1.7">9136824210</text></g>
<g id="n204" class="p" transform="translate(476,281)"><circle r="4.5"/><text y="1.7">1603808352</text></g>
<g id="n205" class="p" transform="translate(439,285)"><circle r="4.5"/><text y="1.7">3155430565</text></g>
<g id="n206" class="p" transform="translate(419,292)"><circle r="4.5"/><text y="1.7">1628262828</text></g>
<g id="n207" class="p" transform="translate(455,292)"><circle r="4.5"/><text y="1.7">5315239585</text></g>
<g id="n208" class="p" transform="translate(450,297)"><circle r="4.5"/><text y="1.7">1603511889</text></g>
<g id="n209" class="p" transform="translate(492,296)"><circle r="4.5"/><text y="1.7">1858124965</text></g>
<g id="n210" class="p" transform="translate(488,304)"><circle r="4.5"/><text y="1.7">1995278167</text></g>
<g id="n211" class="p" transform="translate(450,307)"><circle r="4.5"/><text y="1.7">1811271555</text></g>
<g id="n212" class="p" transform="translate(486,313)"><circle r="4.5"/><text y="1.7">1473269655</text></g>
<g id="n213" class="p" transform="translate(503,318)"><circle r="4.5"/><text y="1.7">9564112342</text></g>
<g id="n214" class="p" transform="translate(450,318)"><circle r="4.5"/><text y="1.7">5016318704</text></g>
<g id="n215" class="p" transform="translate(471,324)"><circle r="4.5"/><text y="1.7">1528464303</text></g>
<g id="n216" class="p" transform="translate(435,329)"><circle r="4.5"/><text y="1.7">1871309855</text></g>
<g id="n217" class="p" transform="translate(471,335)"><circle r="4.5"/><text y="1.7">1733194205</text></g>
<g id="n218" class="p" transform="translate(434,341)"><circle r="4.5"/><text y="1.7">1060264368</text></g>
<g id="n219" class="p" transform="translate(471,346)"><circle r="4.5"/><text y="1.7">1425128733</text></g>
<g id="n220" class="p" transform="translate(489,352)"><circle r="4.5"/><text y="1.7">1137846611</text></g>
<g id="n221" class="p" transform="translate(483,358)"><circle r="4.5"/><text y="1.7">1516982917</text></g>
<g id="n222" class="p" transform="translate(448,363)"><circle r="4.5"/><text y="1.7">9979840870</text></g>
<g id="n223" class="p" transform="translate(416,358)"><circle r="4.5"/><text y="1.7">1508168030</text></g>
<g id="n224" class="p" transform="translate(412,368)"><circle r="4.5"/><text y="1.7">1144066585</text></g>
<g id="n225" class="p" transform="translate(477,368)"><circle r="4.5"/><text y="1.7">9182712249</text></g>
<g id="n226" class="p" transform="translate(441,374)"><circle r="4.5"/><text y="1.7">1598044829</text></g>
<g id="n227" class="p" transform="translate(481,376)"><circle r="4.5"/><text y="1.7">5386845586</text></g>
<g id="n228" class="p" transform="translate(403,374)"><circle r="4.5"/><text y="1.7">5556112993</text></g>
<g id="n229" class="p" transform="translate(416,379)"><circle r="4.5"/><text y="1.7">1598030863</text></g>
<g id="n230" class="p" transform="translate(455,381)"><circle r="4.5"/><text y="1.7">1082452087</text></g>
<g id="n231" class="p" transform="translate(421,387)"><circle r="4.5"/><text y="1.7">1452209422</text></g>
<g id="n232" class="p" transform="translate(457,390)"><circle r="4.5"/><text y="1.7">2305514464</text></g>
<g id="n233" class="p" transform="translate(422,396)"><circle r="4.5"/><text y="1.7">1046838741</text></g>
<g id="n234" class="p" transform="translate(431,405)"><circle r="4.5"/><text y="1.7">1427019738</text></g>
<g id="n235" class="p" transform="translate(422,413)"><circle r="4.5"/><text y="1.7">8676330852</text></g>
<g id="n236" class="p" transform="translate(400,419)"><circle r="4.5"/><text y="1.7">1691385741</text></g>
<g id="n237" class="p" transform="translate(407,425)"><circle r="4.5"/><text y="1.7">1595343428</text></g>
<g id="n238" class="p" transform="translate(400,297)"><circle r="4.5"/><text y="1.7">1161144284</text></g>
<g id="n239" class="p" transform="translate(413,303)"><circle r="4.5"/><text y="1.7">1437158912</text></g>
<g id="n240" class="p" transform="translate(428,313)"><circle r="4.5"/><text y="1.7">1194656239</text></g>
<g id="n241" class="p" transform="translate(413,323)"><circle r="4.5"/><text y="1.7">1610640382</text></g>
<g id="n242" class="p" transform="translate(404,334)"><circle r="4.5"/><text y="1.7">1517357523</text></g>
<g id="n243" class="p" transform="translate(390,308)"><circle r="4.5"/><text y="1.7">1595217432</text></g>
<g id="n244" class="p" transform="translate(390,319)"><circle r="4.5"/><text y="1.7">1790412810</text></g>
<g id="n245" class="p" transform="translate(393,401)"><circle r="4.5"/><text y="1.7">1325070183</text></g>
<g id="n246" class="p" transform="translate(157,296)"><circle r="4.5"/><text y="1.7">1512128637</text></g>
<g id="n247" class="p" transform="translate(210,296)"><circle r="4.5"/><text y="1.7">8978354413</text></g>
<g id="n248" class="p" transform="translate(248,296)"><circle r="4.5"/><text y="1.7">5007235483</text></g>
<g id="n249" class="p" transform="translate(169,302)"><circle r="4.5"/><text y="1.7">1991024556</text></g>
<g id="n250" class="p" transform="translate(218,302)"><circle r="4.5"/><text y="1.7">1609853328</text></g>
<g id="n251" class="p" transform="translate(258,302)"><circle r="4.5"/><text y="1.7">5805630015</text></g>
<g id="n252" class="p" transform="translate(162,313)"><circle r="4.5"/><text y="1.7">1948418173</text></g>
<g id="n253" class="p" transform="translate(258,308)"><circle r="4.5"/><text y="1.7">1691728537</text></g>
<g id="n254" class="p" transform="translate(188,317)"><circle r="4.5"/><text y="1.7">1288371782</text></g>
<g id="n255" class="p" transform="translate(199,307)"><circle r="4.5"/><text y="1.7">3965334880</text></g>
<g id="n256" class="p" transform="translate(229,313)"><circle r="4.5"/><text y="1.7">9287104112</text></g>
<g id="n257" class="p" transform="translate(223,319)"><circle r="4.5"/><text y="1.7">7478184886</text></g>
<g id="n258" class="p" transform="translate(198,324)"><circle r="4.5"/><text y="1.7">1363296966</text></g>
<g id="n259" class="p" transform="translate(260,323)"><circle r="4.5"/><text y="1.7">1424382116</text></g>
<g id="n260" class="p" transform="translate(229,329)"><circle r="4.5"/><text y="1.7">1066536808</text></g>
<g id="n261" class="p" transform="translate(197,335)"><circle r="4.5"/><text y="1.7">1428430258</text></g>
<g id="n262" class="p" transform="translate(263,336)"><circle r="4.5"/><text y="1.7">1308780443</text></g>
<g id="n263" class="p" transform="translate(184,342)"><circle r="4.5"/><text y="1.7">1193470677</text></g>
<g id="n264" class="p" transform="translate(219,341)"><circle r="4.5"/><text y="1.7">5078201210</text></g>
<g id="n265" class="p" transform="translate(251,346)"><circle r="4.5"/><text y="1.7">1279018937</text></g>
<g id="n266" class="p" transform="translate(170,349)"><circle r="4.5"/><text y="1.7">1864331461</text></g>
<g id="n267" class="p" transform="translate(209,347)"><circle r="4.5"/><text y="1.7">1773318806</text></g>
<g id="n268" class="p" transform="translate(155,354)"><circle r="4.5"/><text y="1.7">1772286541</text></g>
<g id="n269" class="p" transform="translate(198,354)"><circle r="4.5"/><text y="1.7">2953246077</text></g>
<g id="n270" class="p" transform="translate(237,353)"><circle r="4.5"/><text y="1.7">1723087796</text></g>
<g id="n271" class="p" transform="translate(154,362)"><circle r="4.5"/><text y="1.7">4005266861</text></g>
<g id="n272" class="p" transform="translate(190,360)"><circle r="4.5"/><text y="1.7">1717122226</text></g>
<g id="n273" class="p" transform="translate(233,360)"><circle r="4.5"/><text y="1.7">5498402880</text></g>
<g id="n274" class="p" transform="translate(267,358)"><circle r="4.5"/><text y="1.7">2096283108</text></g>
<g id="n275" class="p" transform="translate(175,367)"><circle r="4.5"/><text y="1.7">4270188784</text></g>
<g id="n276" class="p" transform="translate(213,366)"><circle r="4.5"/><text y="1.7">4592118157</text></g>
<g id="n277" class="p" transform="translate(247,366)"><circle r="4.5"/><text y="1.7">2889152368</text></g>
<g id="n278" class="p" transform="translate(199,373)"><circle r="4.5"/><text y="1.7">5808253765</text></g>
<g id="n279" class="p" transform="translate(239,372)"><circle r="4.5"/><text y="1.7">2083091734</text></g>
<g id="n280" class="p" transform="translate(218,378)"><circle r="4.5"/><text y="1.7">1822788858</text></g>
<g id="n281" class="p" transform="translate(178,382)"><circle r="4.5"/><text y="1.7">1937024346</text></g>
<g id="n282" class="p" transform="translate(257,382)"><circle r="4.5"/><text y="1.7">5311172920</text></g>
<g id="n283" class="p" transform="translate(222,387)"><circle r="4.5"/><text y="1.7">1759587544</text></g>
<g id="n284" class="p" transform="translate(258,387)"><circle r="4.5"/><text y="1.7">1405086066</text></g>
<g id="n285" class="p" transform="translate(205,393)"><circle r="4.5"/><text y="1.7">1265402850</text></g>
<g id="n286" class="p" transform="translate(237,399)"><circle r="4.5"/><text y="1.7">8578260644</text></g>
<g id="n287" class="p" transform="translate(188,399)"><circle r="4.5"/><text y="1.7">3162070358</text></g>
<g id="n288" class="p" transform="translate(158,405)"><circle r="4.5"/><text y="1.7">2004155984</text></g>
<g id="n289" class="p" transform="translate(218,405)"><circle r="4.5"/><text y="1.7">1089034542</text></g>
<g id="n290" class="p" transform="translate(258,410)"><circle r="4.5"/><text y="1.7">2121673872</text></g>
<g id="n291" class="p" transform="translate(197,411)"><circle r="4.5"/><text y="1.7">2068411081</text></g>
<g id="n292" class="p" transform="translate(172,416)"><circle r="4.5"/><text y="1.7">2059761168</text></g>
<g id="n293" class="p" transform="translate(237,416)"><circle r="4.5"/><text y="1.7">1909348720</text></g>
<g id="n294" class="p" transform="translate(218,422)"><circle r="4.5"/><text y="1.7">1349645045</text></g>
<g id="n295" class="p" transform="translate(188,427)"><circle r="4.5"/><text y="1.7">1739484808</text></g>
<g id="n296" class="p" transform="translate(248,426)"><circle r="4.5"/><text y="1.7">5440192314</text></g>
<g id="n297" class="p" transform="translate(225,432)"><circle r="4.5"/><text y="1.7">2673103055</text></g>
<g id="n298" class="p" transform="translate(217,437)"><circle r="4.5"/><text y="1.7">2077773475</text></g>
<g id="n299" class="p" transform="translate(257,442)"><circle r="4.5"/><text y="1.7">1773054117</text></g>
<g id="n300" class="p" transform="translate(237,447)"><circle r="4.5"/><text y="1.7">1431228838</text></g>
<g id="n301" class="p" transform="translate(269,462)"><circle r="4.5"/><text y="1.7">1522304494</text></g>
<g id="n302" class="p" transform="translate(347,296)"><circle r="4.5"/><text y="1.7">5740385079</text></g>
<g id="n303" class="p" transform="translate(374,303)"><circle r="4.5"/><text y="1.7">1127316524</text></g>
<g id="n304" class="p" transform="translate(297,307)"><circle r="4.5"/><text y="1.7">1688523533</text></g>
<g id="n305" class="p" transform="translate(341,308)"><circle r="4.5"/><text y="1.7">1722506876</text></g>
<g id="n306" class="p" transform="translate(352,314)"><circle r="4.5"/><text y="1.7">6346238865</text></g>
<g id="n307" class="p" transform="translate(322,318)"><circle r="4.5"/><text y="1.7">5254185737</text></g>
<g id="n308" class="p" transform="translate(348,323)"><circle r="4.5"/><text y="1.7">1791391720</text></g>
<g id="n309" class="p" transform="translate(375,328)"><circle r="4.5"/><text y="1.7">1671016332</text></g>
<g id="n310" class="p" transform="translate(297,330)"><circle r="4.5"/><text y="1.7">1445234863</text></g>
<g id="n311" class="p" transform="translate(335,329)"><circle r="4.5"/><text y="1.7">2059620769</text></g>
<g id="n312" class="p" transform="translate(310,335)"><circle r="4.5"/><text y="1.7">1543940084</text></g>
<g id="n313" class="p" transform="translate(360,334)"><circle r="4.5"/><text y="1.7">5458422042</text></g>
<g id="n314" class="p" transform="translate(378,341)"><circle r="4.5"/><text y="1.7">1063271138</text></g>
<g id="n315" class="p" transform="translate(324,341)"><circle r="4.5"/><text y="1.7">1365361823</text></g>
<g id="n316" class="p" transform="translate(288,343)"><circle r="4.5"/><text y="1.7">2078180664</text></g>
<g id="n317" class="p" transform="translate(345,346)"><circle r="4.5"/><text y="1.7">8712361221</text></g>
<g id="n318" class="p" transform="translate(313,350)"><circle r="4.5"/><text y="1.7">5865136228</text></g>
<g id="n319" class="p" transform="translate(384,352)"><circle r="4.5"/><text y="1.7">1596270645</text></g>
<g id="n320" class="p" transform="translate(308,357)"><circle r="4.5"/><text y="1.7">8637033142</text></g>
<g id="n321" class="p" transform="translate(342,355)"><circle r="4.5"/><text y="1.7">5222721198</text></g>
<g id="n322" class="p" transform="translate(298,362)"><circle r="4.5"/><text y="1.7">1780040458</text></g>
<g id="n323" class="p" transform="translate(338,363)"><circle r="4.5"/><text y="1.7">9058222094</text></g>
<g id="n324" class="p" transform="translate(377,361)"><circle r="4.5"/><text y="1.7">1981336384</text></g>
<g id="n325" class="p" transform="translate(289,368)"><circle r="4.5"/><text y="1.7">9698318758</text></g>
<g id="n326" class="p" transform="translate(334,368)"><circle r="4.5"/><text y="1.7">5460224847</text></g>
<g id="n327" class="p" transform="translate(379,369)"><circle r="4.5"/><text y="1.7">1505182517</text></g>
<g id="n328" class="p" transform="translate(277,374)"><circle r="4.5"/><text y="1.7">1655777969</text></g>
<g id="n329" class="p" transform="translate(322,374)"><circle r="4.5"/><text y="1.7">1695246652</text></g>
<g id="n330" class="p" transform="translate(360,377)"><circle r="4.5"/><text y="1.7">1965780927</text></g>
<g id="n331" class="p" transform="translate(294,380)"><circle r="4.5"/><text y="1.7">1608540589</text></g>
<g id="n332" class="p" transform="translate(328,382)"><circle r="4.5"/><text y="1.7">7294526982</text></g>
<g id="n333" class="p" transform="translate(377,382)"><circle r="4.5"/><text y="1.7">2109563688</text></g>
<g id="n334" class="p" transform="translate(294,388)"><circle r="4.5"/><text y="1.7">1149851808</text></g>
<g id="n335" class="p" transform="translate(341,388)"><circle r="4.5"/><text y="1.7">1571545421</text></g>
<g id="n336" class="p" transform="translate(384,391)"><circle r="4.5"/><text y="1.7">8464218112</text></g>
<g id="n337" class="p" transform="translate(317,394)"><circle r="4.5"/><text y="1.7">5166111226</text></g>
<g id="n338" class="p" transform="translate(353,397)"><circle r="4.5"/><text y="1.7">9116142581</text></g>
<g id="n339" class="p" transform="translate(293,399)"><circle r="4.5"/><text y="1.7">1960863919</text></g>
<g id="n340" class="p" transform="translate(333,404)"><circle r="4.5"/><text y="1.7">1542339408</text></g>
<g id="n341" class="p" transform="translate(380,407)"><circle r="4.5"/><text y="1.7">5454344724</text></g>
<g id="n342" class="p" transform="translate(307,410)"><circle r="4.5"/><text y="1.7">9628026358</text></g>
<g id="n343" class="p" transform="translate(385,414)"><circle r="4.5"/><text y="1.7">1142601190</text></g>
<g id="n344" class="p" transform="translate(343,413)"><circle r="4.5"/><text y="1.7">9219450433</text></g>
<g id="n345" class="p" transform="translate(288,415)"><circle r="4.5"/><text y="1.7">2649505638</text></g>
<g id="n346" class="p" transform="translate(313,421)"><circle r="4.5"/><text y="1.7">1608264926</text></g>
<g id="n347" class="p" transform="translate(354,420)"><circle r="4.5"/><text y="1.7">1863840326</text></g>
<g id="n348" class="p" transform="translate(277,420)"><circle r="4.5"/><text y="1.7">1700178357</text></g>
<g id="n349" class="p" transform="translate(325,426)"><circle r="4.5"/><text y="1.7">1678113208</text></g>
<g id="n350" class="p" transform="translate(363,425)"><circle r="4.5"/><text y="1.7">1457262747</text></g>
<g id="n351" class="p" transform="translate(292,430)"><circle r="4.5"/><text y="1.7">1677813412</text></g>
<g id="n352" class="p" transform="translate(372,432)"><circle r="4.5"/><text y="1.7">1327064360</text></g>
<g id="n353" class="p" transform="translate(327,434)"><circle r="4.5"/><text y="1.7">1388251883</text></g>
<g id="n354" class="p" transform="translate(298,440)"><circle r="4.5"/><text y="1.7">1599027735</text></g>
<g id="n355" class="p" transform="translate(342,441)"><circle r="4.5"/><text y="1.7">8329250043</text></g>
<g id="n356" class="p" transform="translate(292,446)"><circle r="4.5"/><text y="1.7">4749464063</text></g>
<g id="n357" class="p" transform="translate(328,446)"><circle r="4.5"/><text y="1.7">1118106613</text></g>
<g id="n358" class="p" transform="translate(345,452)"><circle r="4.5"/><text y="1.7">1914983313</text></g>
<g id="n359" class="p" transform="translate(381,446)"><circle r="4.5"/><text y="1.7">8057448962</text></g>
<g id="n360" class="p" transform="translate(301,452)"><circle r="4.5"/><text y="1.7">1464246141</text></g>
<g id="n361" class="p" transform="translate(308,463)"><circle r="4.5"/><text y="1.7">8416382301</text></g>
<g id="n362" class="p" transform="translate(371,464)"><circle r="4.5"/><text y="1.7">1597881849</text></g>
<g id="n363" class="p" transform="translate(302,470)"><circle r="4.5"/><text y="1.7">1384233371</text></g>
</svg>
